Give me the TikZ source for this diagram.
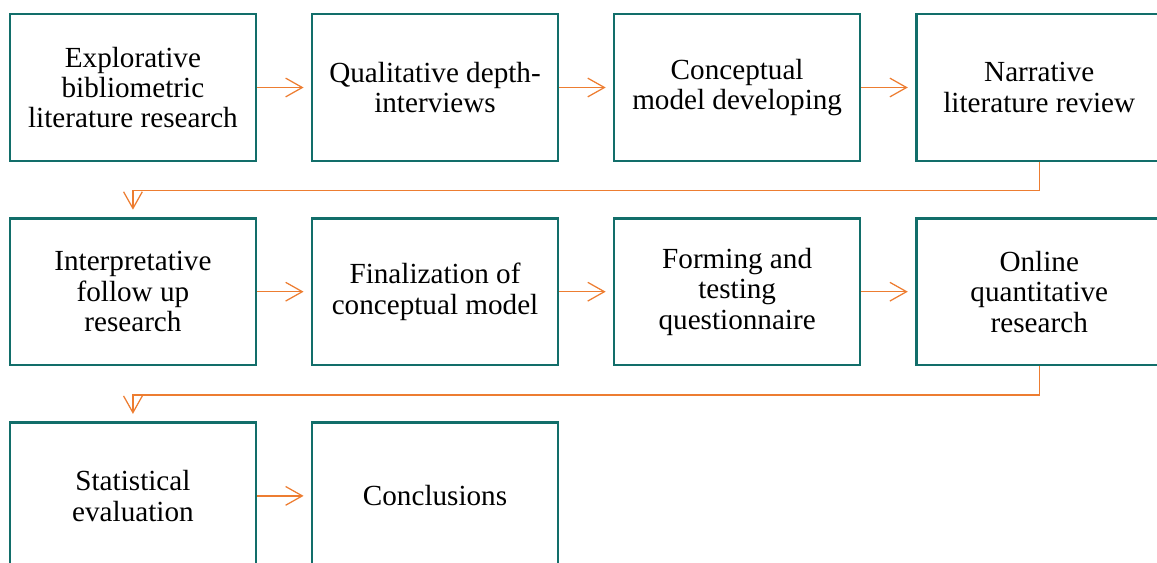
\documentclass[tikz,border=0pt]{standalone}
\usepackage{fontspec}
\setmainfont{Liberation Serif}
\usetikzlibrary{arrows.meta, positioning}
\definecolor{boxteal}{RGB}{18,110,106}
\definecolor{floworange}{RGB}{237,125,49}

\begin{document}
\begin{tikzpicture}[
        on grid, node distance=98pt and 145pt, >={Straight Barb[length=8pt,width=9pt]},
        stage/.style={draw=boxteal, line width=1.2pt, minimum width=118pt, minimum height=70.5pt,
          align=center, font=\fontsize{14}{14.6}\selectfont},
        flow/.style={->, draw=floworange, line width=0.6pt, shorten >=3.5pt}
        ]
        \useasboundingbox (-63.8pt,42pt) rectangle (491.5pt,-228.2pt);

        \node[stage] (st_1)                      {Explorative\\bibliometric\\literature research};
        \node[stage] (st_2) [right=of st_1]      {Qualitative depth-\\interviews};
        \node[stage] (st_3) [right=of st_2]      {Conceptual\\model developing};
        \node[stage] (st_4) [right=of st_3]      {Narrative\\literature review};
        \node[stage] (st_5) [below=of st_1]      {Interpretative\\follow up\\research};
        \node[stage] (st_6) [right=of st_5]      {Finalization of\\conceptual model};
        \node[stage] (st_7) [right=of st_6]      {Forming and\\testing\\questionnaire};
        \node[stage] (st_8) [right=of st_7]      {Online\\quantitative\\research};
        \node[stage] (st_9) [below=of st_5]      {Statistical\\evaluation};
        \node[stage] (st_10) [right=of st_9]     {Conclusions};

        \path (st_1) edge[flow] (st_2)
              (st_2) edge[flow] (st_3)
              (st_3) edge[flow] (st_4)
              (st_5) edge[flow] (st_6)
              (st_6) edge[flow] (st_7)
              (st_7) edge[flow] (st_8)
              (st_9) edge[flow] (st_10);
        \draw[flow] (st_4.south) -- ++(0,-13.7pt) -| (st_5.north);
        \draw[flow] (st_8.south) -- ++(0,-13.7pt) -| (st_9.north);
      \end{tikzpicture}
\end{document}
